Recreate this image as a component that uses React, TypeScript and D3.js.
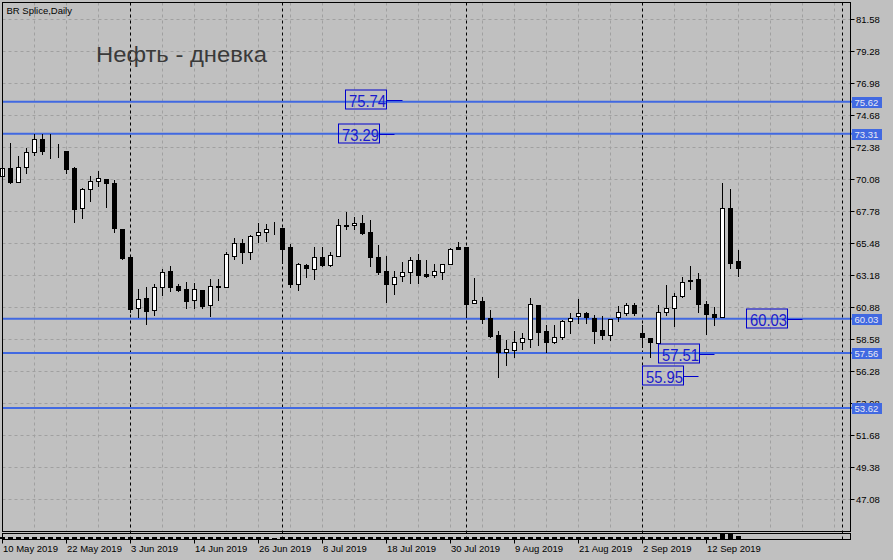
import React from 'react';
import * as d3 from 'd3';

const W = 893;
const H = 560;

// OHLC per daily bar (index 0 = 10 May 2019)
const opens = [70.30,70.83,69.87,70.95,71.98,72.94,72.15,72.12,72.08,70.85,68.00,69.32,69.90,70.06,69.78,66.47,64.46,60.82,61.52,60.67,62.33,63.45,62.38,62.16,61.37,62.09,60.99,62.31,62.33,64.55,65.47,64.84,66.02,66.23,66.48,66.54,65.18,62.54,63.89,63.58,64.48,63.91,64.55,66.72,66.74,66.88,66.23,64.46,63.43,62.54,63.07,63.40,64.22,63.22,63.15,63.36,63.94,65.21,65.18,61.18,61.28,60.06,58.86,57.66,57.78,58.33,58.55,61.01,59.14,58.38,58.69,59.84,60.20,60.46,60.06,59.22,58.88,60.17,60.42,61.01,58.98,58.62,58.32,60.49,60.77,61.64,62.76,62.88,61.08,60.37,60.17,67.96,64.17];
const highs = [71.07,72.63,71.72,72.27,73.30,73.30,73.30,72.58,72.10,70.92,69.42,70.28,70.64,70.10,69.97,66.50,64.50,62.16,62.28,62.54,63.60,63.84,62.50,62.64,62.57,62.12,62.86,62.88,64.84,65.80,65.75,66.04,66.92,66.83,66.95,66.58,65.42,64.05,63.96,65.18,65.18,64.82,67.19,67.71,67.31,67.48,67.12,65.32,64.53,63.43,64.08,64.46,64.65,64.24,63.96,63.96,65.13,65.54,65.21,62.95,61.61,60.65,59.17,58.50,59.17,58.98,61.49,61.05,59.58,59.58,59.94,60.42,61.42,60.50,60.29,60.22,60.00,60.94,61.18,61.18,59.58,58.68,61.01,62.45,61.90,63.00,63.81,63.29,61.32,60.89,69.80,69.32,64.96];
const lows = [69.99,69.76,69.85,70.47,71.79,71.84,71.59,71.67,70.47,67.00,67.28,68.51,69.58,68.07,66.28,64.34,60.51,60.17,59.63,60.29,61.73,62.02,62.00,60.77,60.77,60.77,60.24,61.37,62.31,64.30,64.05,64.32,65.52,65.63,66.13,64.03,62.33,62.09,63.05,62.88,63.84,63.82,64.50,66.49,66.47,66.15,63.84,63.24,61.25,61.82,62.74,62.61,62.57,63.05,63.05,62.90,63.93,65.01,60.17,61.15,59.70,58.75,55.86,56.70,57.30,57.85,58.02,58.14,57.66,58.26,58.55,58.98,59.70,59.70,58.30,58.57,58.50,59.86,60.29,60.29,58.02,57.28,58.28,60.29,59.54,61.62,62.14,60.53,58.93,59.58,60.15,63.65,63.10];
const closes = [70.83,69.87,70.95,71.98,72.94,72.10,72.12,72.14,70.78,67.91,69.32,69.90,70.11,69.76,66.52,64.41,60.72,61.44,60.58,62.31,63.38,62.33,62.09,61.32,62.14,60.96,62.38,62.36,64.68,65.47,64.84,65.97,66.23,66.47,66.50,65.06,62.54,63.96,63.69,64.48,63.91,64.60,66.74,66.76,66.88,66.16,64.44,63.40,62.54,63.00,63.40,64.22,63.15,63.10,63.43,63.94,65.04,65.07,61.06,61.37,59.98,58.79,57.66,57.85,58.35,58.62,61.06,59.09,58.33,58.69,59.86,60.06,60.46,60.17,59.17,58.86,59.98,60.49,61.01,60.42,58.69,58.33,60.49,60.77,61.66,62.64,62.80,61.11,60.37,60.17,67.96,64.05,63.69];
const volumes = [180,200,190,210,200,190,170,180,200,230,210,190,170,200,220,240,260,220,230,210,200,210,170,200,190,210,200,180,220,210,200,190,180,170,150,200,230,210,170,190,200,180,210,200,170,190,220,230,240,210,190,200,210,190,170,180,200,170,260,220,230,220,240,210,200,190,230,250,220,190,200,180,190,170,210,200,190,180,170,180,200,190,210,200,190,200,210,190,230,220,620,590,330];

const dateLabels = ['10 May 2019','22 May 2019','3 Jun 2019','14 Jun 2019','26 Jun 2019','8 Jul 2019','18 Jul 2019','30 Jul 2019','9 Aug 2019','21 Aug 2019','2 Sep 2019','12 Sep 2019'];
const dateLabelBars = [0,8,16,24,32,40,48,56,64,72,80,88];
const priceTicks = [81.58,79.28,76.98,74.68,72.38,70.08,67.78,65.48,63.18,60.88,58.58,56.28,53.98,51.68,49.38,47.08];
const separatorBars = [16,35,58,80,105];
const gridBars = [4,8,12,16,20,24,28,32,36,40,44,48,52,56,60,64,68,72,76,80,84,88,92,96,100,104];
const levelLines = [75.62,73.31,60.03,57.56,53.62];
const priceLabelValues = [75.74,73.29,60.03,57.51,55.95];
const priceLabelBars = [48,47,98,87,85];

const FONT = 'Liberation Sans, Arial, sans-serif';

export default function App() {
  const x = d3.scaleLinear().domain([0, 105]).range([2.5, 842.5]);
  const y = d3.scaleLinear().domain([47.08, 81.58]).range([499, 18.7]);
  const vol = d3.scaleLinear().domain([0, d3.max(volumes) as number]).range([539, 533.5]);
  const py = (v: number) => Math.round(y(v)) + 0.5;

  const left = 2.5, right = 850.5, top = 2.5, bottom = 531.5;

  return (
    <svg width={W} height={H} style={{ position: 'absolute', left: 0, top: 0, display: 'block' }} fontFamily={FONT}>
      <rect x={0} y={0} width={W} height={H} fill="#c0c0c0" />
      {/* grid */}
      {priceTicks.map((t, i) => (
        <line key={'hg' + i} x1={left} x2={right} y1={py(t)} y2={py(t)} stroke="#a0a0a0" strokeDasharray="3,3" />
      ))}
      {gridBars.map((b, i) => (
        <line key={'vg' + i} x1={x(b)} x2={x(b)} y1={top} y2={bottom} stroke="#a0a0a0" strokeDasharray="3,3" />
      ))}
      {separatorBars.map((b, i) => (
        <line key={'sep' + i} x1={x(b)} x2={x(b)} y1={top} y2={539} stroke="#000" strokeDasharray="3,3" />
      ))}
      {/* level lines */}
      {levelLines.map((v, i) => (
        <line key={'lv' + i} x1={left} x2={right + 2} y1={y(v)} y2={y(v)} stroke="#4169e1" strokeWidth={2} />
      ))}
      {/* candles */}
      {opens.map((o, i) => {
        const c = closes[i];
        const cx = x(i);
        const yo = Math.round(y(o));
        const yc = Math.round(y(c));
        const bTop = Math.min(yo, yc) + 0.5;
        const bH = Math.abs(yo - yc);
        const bull = c >= o;
        return (
          <g key={'c' + i}>
            <line x1={cx} x2={cx} y1={Math.round(y(highs[i]))} y2={Math.round(y(lows[i])) + 1} stroke="#000" />
            <rect x={cx - 2} y={bTop} width={4} height={bH} fill={bull ? '#fff' : '#000'} stroke="#000" />
          </g>
        );
      })}
      {/* price label objects */}
      {priceLabelValues.map((v, i) => {
        const xr = Math.round(x(priceLabelBars[i])) + 0.5;
        const ly = Math.round(y(v)) + 0.5;
        return (
          <g key={'pl' + i}>
            <line x1={xr} x2={x(priceLabelBars[i] + 2)} y1={ly} y2={ly} stroke="#0000cc" />
            <rect x={xr - 41} y={ly - 10.5} width={41} height={19} fill="none" stroke="#0000cc" />
            <text x={xr - 37.5} y={ly + 6.5} fontSize={16.5} fill="#1a1acc" textLength={37} lengthAdjust="spacingAndGlyphs">
              {v.toFixed(2)}
            </text>
          </g>
        );
      })}
      {/* frames */}
      <rect x={left} y={top} width={right - left} height={bottom - top} fill="none" stroke="#000" />
      <rect x={left} y={533.5} width={right - left} height={6} fill="none" stroke="#000" />
      {/* volumes */}
      {volumes.map((v, i) => (
        <rect key={'v' + i} x={x(i) - 2.5} y={Math.round(vol(v))} width={5} height={539 - Math.round(vol(v))} fill="#000" />
      ))}
      {/* y axis */}
      {priceTicks.map((t, i) => (
        <g key={'yt' + i}>
          <line x1={right} x2={right + 4} y1={py(t)} y2={py(t)} stroke="#000" />
          <text x={856} y={py(t) + 3.5} fontSize={9.5} fill="#000">{t.toFixed(2)}</text>
        </g>
      ))}
      {levelLines.map((v, i) => {
        const ly = Math.round(y(v)) + 0.5;
        return (
          <g key={'al' + i}>
            <rect x={852} y={ly - 5.5} width={30} height={11} fill="#4169e1" />
            <text x={854.5} y={ly + 3.5} fontSize={9.5} fill="#e8e8f4">{v.toFixed(2)}</text>
          </g>
        );
      })}
      {/* x axis */}
      {dateLabelBars.map((b, i) => (
        <g key={'xt' + i}>
          <line x1={x(b)} x2={x(b)} y1={539.5} y2={543.5} stroke="#000" />
          <text x={x(b) + 0.5} y={552} fontSize={9.5} fill="#000">{dateLabels[i]}</text>
        </g>
      ))}
      {/* titles */}
      <text x={6.5} y={13.5} fontSize={9.5} fill="#000">BR Splice,Daily</text>
      <text x={96} y={61.5} fontSize={22} fill="#3a3a3a" textLength={171} lengthAdjust="spacingAndGlyphs">Нефть - дневка</text>
    </svg>
  );
}
